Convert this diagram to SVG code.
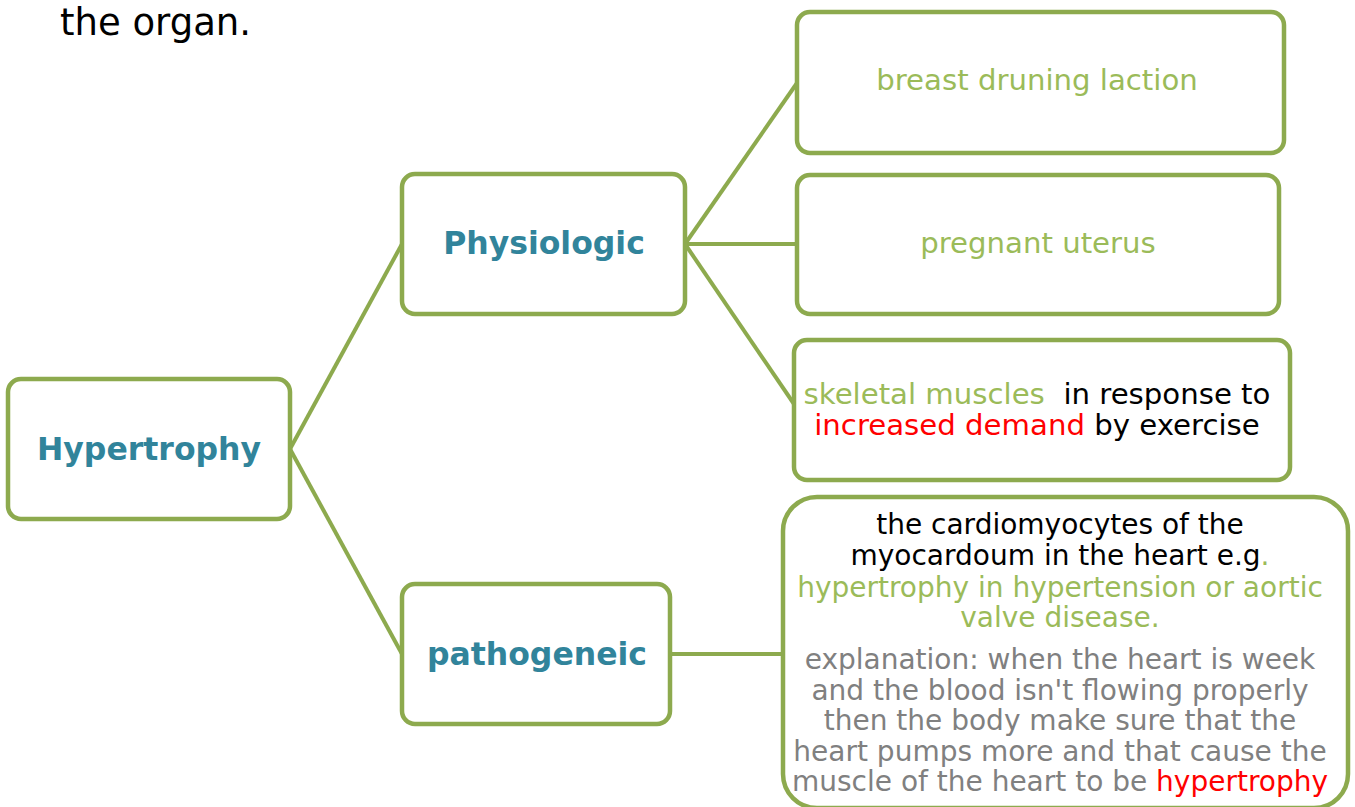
<svg xmlns="http://www.w3.org/2000/svg" width="1355" height="807" viewBox="0 0 1355 807">
<style>
.box{fill:#fff;stroke:#8DAA4E;stroke-width:4.5}
.con{stroke:#8DAA4E;stroke-width:4;fill:none}
.t{font-family:"DejaVu Sans",Verdana,sans-serif;text-anchor:middle}
.h{font-size:31.5px;font-weight:bold;fill:#31849B}
.b{font-size:28px}
.s{font-size:29.2px}
.g{fill:#9BBB59}
.k{fill:#000}
.r{fill:#FF0000}
.gr{fill:#808080}
</style>
<rect width="1355" height="807" fill="#fff"/>
<text x="60" y="35" font-family="DejaVu Sans,Verdana,sans-serif" font-size="37" fill="#000">the organ.</text>
<g id="connectors">
<line class="con" x1="290" y1="449" x2="402" y2="244"/>
<line class="con" x1="290" y1="449" x2="402" y2="654"/>
<line class="con" x1="685" y1="244" x2="797" y2="83"/>
<line class="con" x1="685" y1="244" x2="797" y2="244"/>
<line class="con" x1="685" y1="244" x2="794" y2="404"/>
<line class="con" x1="670" y1="654" x2="783" y2="654"/>
</g>
<g id="hypertrophy">
<rect class="box" x="8" y="379" width="282" height="140" rx="13"/>
<text class="t h" x="149" y="460">Hypertrophy</text>
</g>
<g id="physiologic">
<rect class="box" x="402" y="174" width="283" height="140" rx="13"/>
<text class="t h" x="544" y="254">Physiologic</text>
</g>
<g id="pathogeneic">
<rect class="box" x="402" y="584" width="268" height="140" rx="13"/>
<text class="t h" x="537" y="665">pathogeneic</text>
</g>
<g id="breast">
<rect class="box" x="797" y="12" width="487" height="141" rx="13"/>
<text class="t s g" x="1037" y="90">breast druning laction</text>
</g>
<g id="uterus">
<rect class="box" x="797" y="175" width="482" height="139" rx="13"/>
<text class="t s g" x="1038" y="253">pregnant uterus</text>
</g>
<g id="skeletal">
<rect class="box" x="794" y="340" width="496" height="140" rx="13"/>
<text class="t s" x="1037" y="404"><tspan class="g">skeletal muscles&#160;</tspan><tspan class="k"> in response to</tspan></text>
<text class="t s" x="1037" y="435"><tspan class="r">increased demand</tspan><tspan class="k"> by exercise</tspan></text>
</g>
<g id="cardio">
<rect class="box" x="783" y="497" width="565" height="311" rx="34"/>
<text class="t b k" x="1060" y="534">the cardiomyocytes of the</text>
<text class="t b" x="1060" y="565"><tspan class="k">myocardoum in the heart e.g</tspan><tspan class="g">.</tspan></text>
<text class="t b g" x="1060" y="597">hypertrophy in hypertension or aortic</text>
<text class="t b g" x="1060" y="627">valve disease.</text>
<text class="t b gr" x="1060" y="669">explanation: when the heart is week</text>
<text class="t b gr" x="1060" y="700">and the blood isn't flowing properly</text>
<text class="t b gr" x="1060" y="730">then the body make sure that the</text>
<text class="t b gr" x="1060" y="761">heart pumps more and that cause the</text>
<text class="t b" x="1060" y="791"><tspan class="gr">muscle of the heart to be </tspan><tspan class="r">hypertrophy</tspan></text>
</g>
</svg>
